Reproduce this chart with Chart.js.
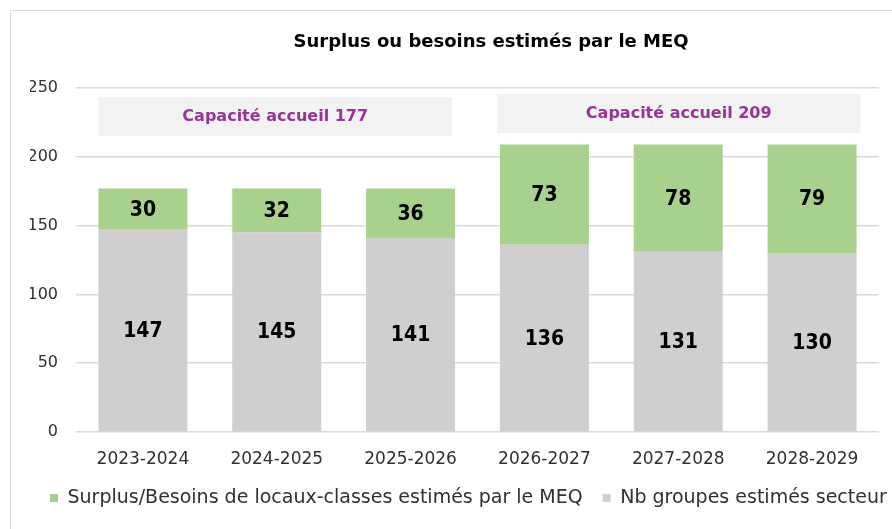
<!DOCTYPE html>
<html>
<head>
<meta charset="utf-8">
<script src="https://cdn.jsdelivr.net/npm/chart.js@4.4.0/dist/chart.umd.min.js"></script>
<style>
  body { margin: 0; background: #fff; overflow: hidden; }
  #frame { position: absolute; left: 10px; top: 10px; width: 960px; height: 540px; border: 1px solid #d9d9d9; background: #fff; }
</style>
</head>
<body>
<div id="frame"><canvas id="chart1"></canvas></div>
<script>
var years = ['2023-2024', '2024-2025', '2025-2026', '2026-2027', '2027-2028', '2028-2029']
var groupes = [147, 145, 141, 136, 131, 130]
var surplus = [30, 32, 36, 73, 78, 79]
var yTicks = [0, 50, 100, 150, 200, 250]
var chartTitle = 'Surplus ou besoins estimés par le MEQ'
var capaciteLabels = ['Capacité accueil 177', 'Capacité accueil 209']
var capaciteFrom = [0, 3]
var capaciteTo = [2, 5]

var fontName = '"DejaVu Sans", sans-serif'
var numFont = '"DejaVu Sans Condensed", "DejaVu Sans", sans-serif'
var textColor = '#303030'

// title centred on the whole frame, not only on the plot
var titlePlugin = {
    id: 'bigTitle',
    afterDraw: function(chart) {
        var ctx = chart.ctx
        ctx.save()
        ctx.fillStyle = '#000'
        ctx.font = 'bold 18px ' + fontName
        ctx.textAlign = 'center'
        ctx.textBaseline = 'middle'
        ctx.fillText(chartTitle, chart.width / 2, 31)
        ctx.restore()
    }
}

// grey boxes "Capacité accueil" above the bars
var capacitePlugin = {
    id: 'capacite',
    afterDatasetsDraw: function(chart) {
        var ctx = chart.ctx
        var y = chart.scales.y
        var bars = chart.getDatasetMeta(0).data
        var tops = [243.5, 245.6]
        var bottoms = [215, 217.3]
        for (let i = 0; i < capaciteLabels.length; i++) {
            var a = bars[capaciteFrom[i]], b = bars[capaciteTo[i]]
            var x1 = a.x - a.width / 2
            var x2 = b.x + b.width / 2 + (i === 0 ? -3 : 4)
            if (i === 1) x1 -= 3
            var y1 = y.getPixelForValue(tops[i])
            var y2 = y.getPixelForValue(bottoms[i])
            ctx.save()
            ctx.fillStyle = '#f2f2f2'
            ctx.fillRect(x1, y1, x2 - x1, y2 - y1)
            ctx.fillStyle = '#993399'
            ctx.font = 'bold 16px ' + fontName
            ctx.textAlign = 'center'
            ctx.textBaseline = 'middle'
            ctx.fillText(capaciteLabels[i], (x1 + x2) / 2, (y1 + y2) / 2)
            ctx.restore()
        }
    }
}

// values written in the middle of each segment
var valuesPlugin = {
    id: 'values',
    afterDatasetsDraw: function(chart) {
        var ctx = chart.ctx
        ctx.save()
        ctx.fillStyle = '#000'
        ctx.font = 'bold 21px ' + numFont
        ctx.textAlign = 'center'
        ctx.textBaseline = 'middle'
        chart.data.datasets.forEach(function(ds, di) {
            chart.getDatasetMeta(di).data.forEach(function(bar, i) {
                ctx.fillText(ds.data[i], bar.x, (bar.y + bar.base) / 2 + 1)
            })
        })
        ctx.restore()
    }
}

window.onload = () => {
    const ctx = document.getElementById("chart1").getContext("2d");
    window.myBar = new Chart(ctx, {
        type: 'bar',
        data: {
            labels: years,
            datasets: [{
                label: 'Nb groupes estimés secteur',
                data: groupes,
                backgroundColor: '#d0cece',
                borderWidth: 0,
                categoryPercentage: 1,
                barPercentage: 0.665
            },
            {
                label: 'Surplus/Besoins de locaux-classes estimés par le MEQ',
                data: surplus,
                backgroundColor: '#a9d18e',
                borderWidth: 0,
                categoryPercentage: 1,
                barPercentage: 0.665
            }]
        },
        options: {
            responsive: true,
            maintainAspectRatio: false,
            animation: false,
            layout: { padding: { left: 19, right: 0, top: 77, bottom: 33.5 } },
            plugins: {
                title: { display: false },
                legend: {
                    position: 'bottom',
                    align: 'start',
                    reverse: true,
                    labels: {
                        color: textColor,
                        font: { family: fontName, size: 19 },
                        boxWidth: 8,
                        boxHeight: 8,
                        padding: 20
                    }
                },
                tooltip: { enabled: false }
            },
            scales: {
                x: {
                    stacked: true,
                    grid: { display: false },
                    border: { display: false },
                    ticks: { color: textColor, font: { family: fontName, size: 17 }, padding: 9 },
                    afterFit: function(axis) { axis.height = 36.5 }
                },
                y: {
                    stacked: true,
                    min: yTicks[0],
                    max: yTicks[yTicks.length - 1],
                    afterBuildTicks: function(axis) {
                        axis.ticks = yTicks.map(function(v) { return { value: v } })
                    },
                    grid: { color: '#d9d9d9', lineWidth: 1.5, drawTicks: false },
                    border: { display: false },
                    ticks: { color: textColor, font: { family: fontName, size: 16 }, padding: 18 },
                    afterFit: function(axis) { axis.width = 46 }
                },
                // empty space on the right of the plot, the legend still uses the full width
                rightSpace: {
                    type: 'linear',
                    position: 'right',
                    grid: { display: false },
                    border: { display: false },
                    ticks: { display: false },
                    afterFit: function(axis) { axis.width = 92 }
                }
            }
        },
        plugins: [titlePlugin, capacitePlugin, valuesPlugin]
    });
};
</script>
</body>
</html>
